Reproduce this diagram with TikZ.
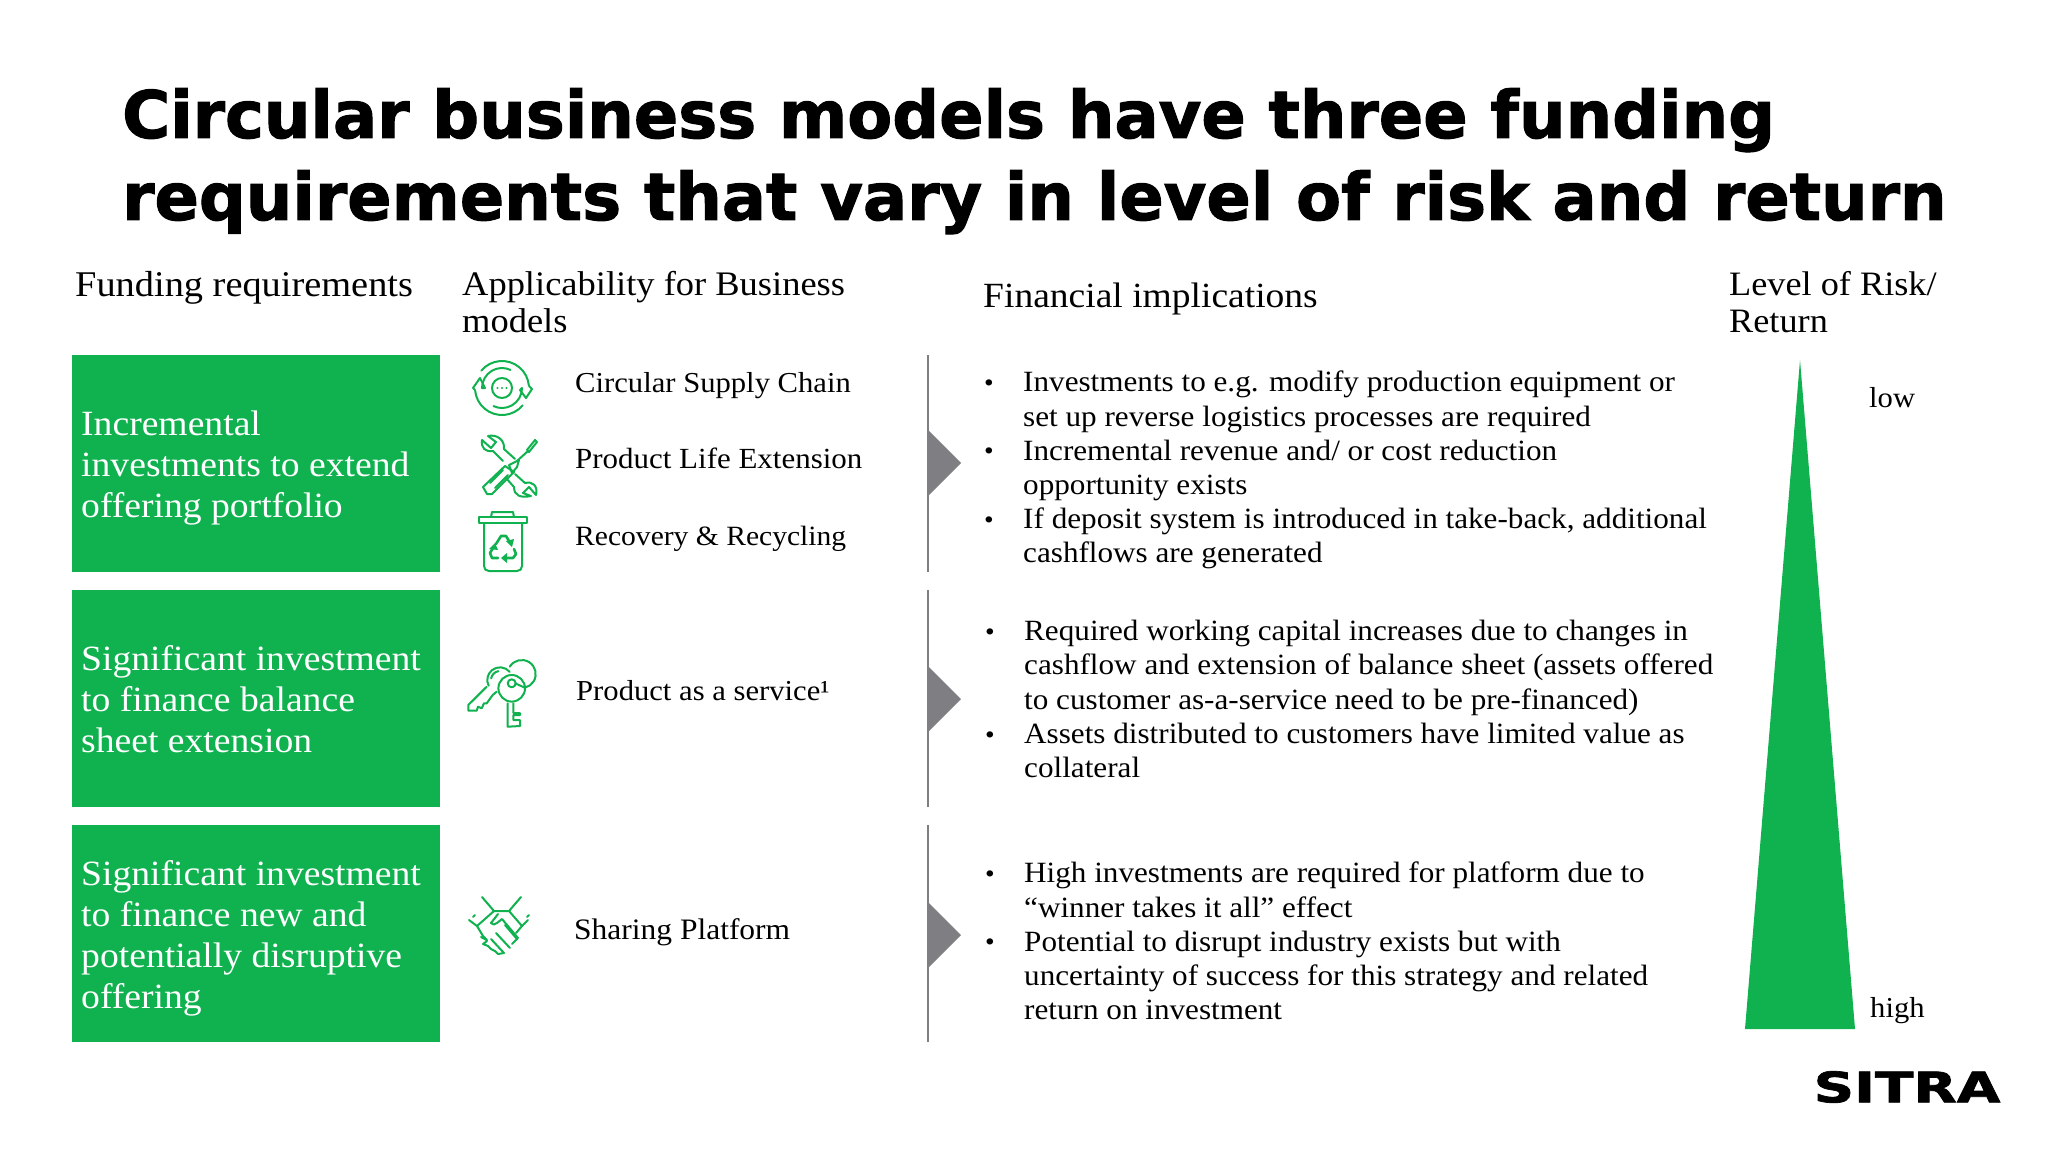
\documentclass[tikz,border=0pt]{standalone}
\usepackage{fontspec}
\setmainfont{Liberation Serif}[FakeStretch=1.06]
\newfontfamily\titlefont{DejaVu Sans}[BoldFeatures={FakeBold=1.6}]
\usetikzlibrary{calc}
\definecolor{sgreen}{HTML}{10B14F}
\definecolor{sgray}{HTML}{7F7F83}
\tikzset{
  x=1pt,y=-1pt,
  greenbox/.style={fill=sgreen,draw=none},
  divider/.style={draw=sgray,line width=2pt},
  pointer/.style={fill=sgray,draw=none},
  head/.style={anchor=north west,inner sep=0,align=left},
  boxtxt/.style={anchor=north west,inner sep=0,align=left,text=white,font=\fontsize{35.5}{41}\selectfont},
  lab/.style={anchor=base west,inner sep=0,font=\fontsize{28.9}{34.2}\selectfont},
  body/.style={anchor=north west,inner sep=0,align=left,font=\fontsize{29.4}{34.2}\selectfont},
  bul/.style={anchor=base,inner sep=0,font=\fontsize{26}{30}\selectfont},
  ttl/.style={anchor=north west,inner sep=0,align=left,font=\titlefont\bfseries\fontsize{65.5}{82}\selectfont},
  ico/.style={draw=sgreen,line width=2pt,line cap=round,line join=round,fill=none},
}
\begin{document}
\begin{tikzpicture}
\useasboundingbox (0,0) rectangle (2048,1152);
\fill[white] (0,0) rectangle (2048,1152);
\node[ttl] (title) at (122,88) {Circular business models have three funding\\requirements that vary in level of risk and return};
\node[head,font=\fontsize{36.2}{37}\selectfont] (h1) at (75,271) {Funding requirements};
\node[head,font=\fontsize{34.4}{37}\selectfont] (h2) at (462,271) {Applicability for Business\\models};
\node[head,font=\fontsize{35.4}{37}\selectfont] (h3) at (983,283) {Financial implications};
\node[head,font=\fontsize{34.2}{37}\selectfont] (h4) at (1729,271) {Level of Risk/\\Return};

\fill[greenbox] (72,355) rectangle (440,572);
\fill[greenbox] (72,590) rectangle (440,807);
\fill[greenbox] (72,825) rectangle (440,1042);
\node[boxtxt] (b1) at (81,411) {Incremental\\investments to extend\\offering portfolio};
\node[boxtxt] (b2) at (81,645) {Significant investment\\to finance balance\\sheet extension};
\node[boxtxt] (b3) at (81,860) {Significant investment\\to finance new and\\potentially disruptive\\offering};

\node[lab] (l1) at (575,392) {Circular Supply Chain};
\node[lab,font=\fontsize{29.2}{34.2}\selectfont] (l2) at (575,468) {Product Life Extension};
\node[lab,font=\fontsize{27.9}{34.2}\selectfont] (l3) at (575,545) {Recovery \& Recycling};
\node[lab] (l4) at (576,700) {Product as a service¹};
\node[lab,font=\fontsize{29.7}{34.2}\selectfont] (l5) at (574,939) {Sharing Platform};

\foreach \a/\b/\c in {355/572/463,590/807/699,825/1042/935}{
  \draw[divider] (928,\a) -- (928,\b);
  \fill[pointer] (928,\c-33) -- (961,\c) -- (928,\c+33) -- cycle;
}

\node[body] (f1) at (1023,371) {Investments to e.g. modify production equipment or\\set up reverse logistics processes are required\\Incremental revenue and/ or cost reduction\\opportunity exists\\If deposit system is introduced in take-back, additional\\cashflows are generated};
\node[bul] (f1a) at (989,391) {•};
\node[bul] (f1b) at (989,459) {•};
\node[bul] (f1c) at (989,528) {•};
\node[body] (f2) at (1024,620) {Required working capital increases due to changes in\\cashflow and extension of balance sheet (assets offered\\to customer as-a-service need to be pre-financed)\\Assets distributed to customers have limited value as\\collateral};
\node[bul] (f2a) at (990,640) {•};
\node[bul] (f2b) at (990,743) {•};
\node[body] (f3) at (1024,862) {High investments are required for platform due to\\“winner takes it all” effect\\Potential to disrupt industry exists but with\\uncertainty of success for this strategy and related\\return on investment};
\node[bul] (f3a) at (990,882) {•};
\node[bul] (f3b) at (990,950) {•};

\fill[greenbox] (1800,360) -- (1855,1029) -- (1745,1029) -- cycle;
\node[lab] (low) at (1869,407) {low};
\node[lab] (high) at (1870,1017) {high};

% icon 1: circular supply chain
\begin{scope}[shift={(502,388)}]
  \draw[ico] (0,0) circle (10);
  \fill[sgreen] (-4.5,0) circle (1.1) (0,0) circle (1.1) (4.5,0) circle (1.1);
  \draw[ico] (-140:27) arc[start angle=-140,end angle=-5,radius=27];
  \draw[ico] (40:27) arc[start angle=40,end angle=175,radius=27];
  \draw[ico] (180:20) arc[start angle=180,end angle=295,radius=20];
  \draw[ico] (0:20) arc[start angle=0,end angle=115,radius=20];
  \draw[ico] (20,0) -- (18,2) -- (24,10) -- (30,1) -- (27,-2);
  \draw[ico] (-20,0) -- (-17,0) -- (-22,-10) -- (-29,0) -- (-27,2);
\end{scope}

% icon 2: wrench and screwdriver
\begin{scope}[shift={(509,468)}]
  \draw[ico] (18,-18) -- (26,-28) -- (28,-26) -- (20,-16) -- cycle;
  \draw[ico] (19,-17) -- (8,-7);
  \draw[ico] (0,-3) -- (10,-8) -- (8,-1) -- (3,5) -- cycle;
  \draw[ico] (-4,-2) -- (-26,19) -- (-22,26) -- (-17,26) -- (5,4) -- cycle;
  \draw[ico] (-19,15) -- (-6,2) (-14,20) -- (-1,7);
  \draw[ico] (-6,-7) -- (-16,-17) .. controls (-24,-16) and (-28,-20) .. (-27,-28) -- (-18,-20) -- (-13,-26) -- (-21,-32) .. controls (-12,-34) and (-4,-28) .. (-5,-19) -- (6,-9);
  \draw[ico] (6,6) -- (16,15) .. controls (24,13) and (29,18) .. (27,27) -- (20,19) -- (14,25) -- (22,28) .. controls (12,30) and (5,28) .. (5,19) -- (-3,10);
\end{scope}

% icon 3: bin with recycling
\begin{scope}[shift={(503,533)}]
  \draw[ico] (-24,-16) rectangle (24,-10);
  \draw[ico] (-12,-16) -- (-11,-21) -- (10,-21) -- (11,-16);
  \draw[ico] (-19,-10) -- (-19,33) .. controls (-19,36) and (-17,38) .. (-14,38) -- (14,38) .. controls (17,38) and (19,36) .. (19,33) -- (19,-10);
  \begin{scope}[shift={(0,14)}]
    \draw[ico,line width=2.6pt] (-7,-3) -- (-2,-11) -- (3,-11) -- (6,-6);
    \fill[sgreen] (9,0) -- (3,-6) -- (11,-8) -- cycle;
    \draw[ico,line width=2.6pt] (11,2) -- (13,7) -- (10,11) -- (3,11);
    \fill[sgreen] (-2,11) -- (4,6) -- (4,16) -- cycle;
    \draw[ico,line width=2.6pt] (-5,11) -- (-11,11) -- (-13,6) -- (-10,1);
    \fill[sgreen] (-8,-4) -- (-14,2) -- (-5,3) -- cycle;
  \end{scope}
\end{scope}

% icon 4: keys
\begin{scope}[shift={(450,640)}]
  \draw[ico] (71.7,34) ++(-148:14) arc[start angle=-148,end angle=76,radius=14];
  \draw[ico] (50,40) ++(-40:12.7) arc[start angle=-40,end angle=-207,radius=12.7];
  \draw[ico] (50,40) ++(-100:9) arc[start angle=-100,end angle=-170,radius=9];
  \draw[ico] (36.7,46.7) -- (18.3,65) -- (18.3,70.7) -- (26.7,70.7) -- (28,66.7) -- (31.7,68.3) -- (34,63.3) -- (36.7,63.3) -- (42.7,55) -- (46.7,51.7);
  \draw[ico] (61.7,48.3) circle (13.3);
  \draw[ico] (61.7,43.3) circle (4);
  \draw[ico] (65.5,43.5) -- (75,47.7);
  \draw[ico] (57.7,63.3) -- (57.7,86.7) -- (70,86) -- (70,80) -- (63.3,80) -- (63.3,75) -- (70,75) -- (70,73) -- (63.3,73) -- (63.3,63.3);
\end{scope}

% icon 5: handshake
\begin{scope}[shift={(450,640)}]
  \draw[ico] (32,257) -- (44,271) (71,257) -- (59,271);
  \draw[ico] (44,271) -- (59,271) -- (72,286) -- (78,280);
  \draw[ico] (44,271) -- (27,286) -- (19,280);
  \draw[ico] (23,277) -- (25,275) (77,277) -- (79,275);
  \draw[ico] (72,286) -- (66,293) (27,286) -- (33,296);
  \draw[ico] (48,274) -- (41,283) .. controls (42,285) and (45,285) .. (47,283) -- (52,279) -- (68,298) -- (62,304);
  \draw[ico] (33,296) -- (37,300) -- (31,297) (37,301) -- (33,304) -- (38,306) -- (41,309) -- (45,311) -- (48,314) -- (54,313);
  \draw[ico] (46,293) -- (60,308) (41,299) -- (54,313) (55,285) -- (67,299);
\end{scope}

\node[anchor=center,inner sep=0] (logo) at (1907,1087) {\titlefont\bfseries\fontsize{42}{42}\selectfont\scalebox{1.34}[1]{SITRA}};
\end{tikzpicture}
\end{document}
